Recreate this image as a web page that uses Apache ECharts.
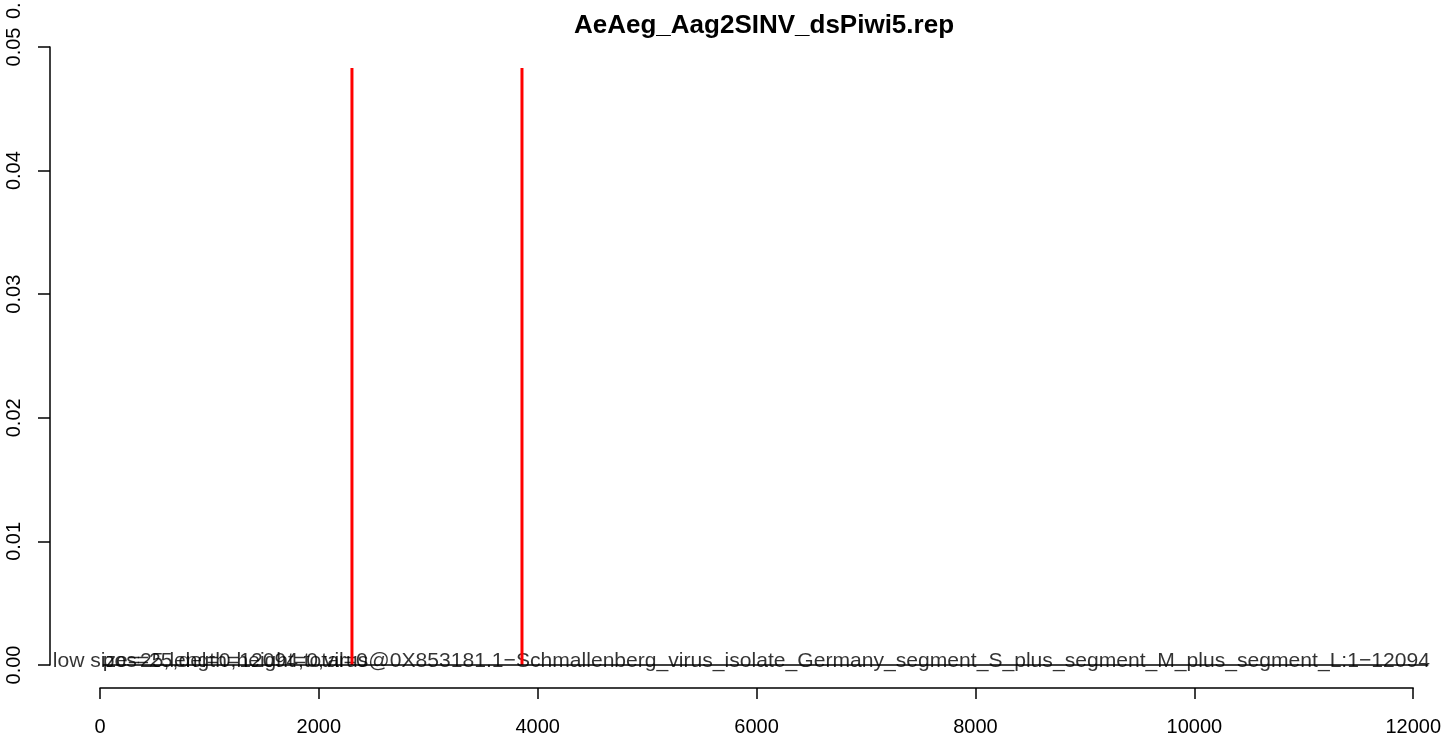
<!DOCTYPE html>
<html>
<head>
<meta charset="utf-8">
<script src="https://cdn.jsdelivr.net/npm/echarts@6/dist/echarts.min.js"></script>
<style>
html,body{margin:0;padding:0;background:#fff;}
#chart{width:1444px;height:740px;}
</style>
</head>
<body>
<div id="chart"></div>
<script>
var chartTitle = 'AeAeg_Aag2SINV_dsPiwi5.rep';
var spikePositions = [2294, 3842];
var spikeHeights = [0.0483, 0.0483];
var baselineStart = 25;
var baselineEnd = 12094;
var xTicks = [0, 2000, 4000, 6000, 8000, 10000, 12000];
var yTicks = [0, 0.01, 0.02, 0.03, 0.04, 0.05];
var noteA = 'low size=25,length=12094,total=0';
var noteAx = -430;
var noteB = 'pos=25,del=0,height=0,virus@0X853181.1\u2212Schmallenberg_virus_isolate_Germany_segment_S_plus_segment_M_plus_segment_L:1\u221212094';
var noteBx = 25;

var FONT = '"Liberation Sans", Arial, Helvetica, sans-serif';
var chart = echarts.init(document.getElementById('chart'));

// plot geometry: x = 0 at 100px, x = 12000 at 1418px; y axis line at 50px
var pxPerUnit = 1318 / (xTicks[xTicks.length - 1] - xTicks[0]);
var dataXMin = -50 / pxPerUnit;
var dataXMax = 1344 / pxPerUnit;

var series = [];
spikePositions.forEach(function (p, i) {
  series.push({
    type: 'line', symbol: 'none', silent: true, xAxisIndex: 0, yAxisIndex: 0,
    lineStyle: {color: '#ff0000', width: 3},
    data: [[p, 0], [p, spikeHeights[i]]]
  });
});
series.push({
  type: 'line', symbol: 'none', silent: true, clip: false, xAxisIndex: 0, yAxisIndex: 0,
  lineStyle: {color: '#000000', width: 1.5},
  data: [[baselineStart, 0], [baselineEnd, 0]]
});
[[noteAx, noteA], [noteBx, noteB]].forEach(function (n) {
  series.push({
    type: 'scatter', symbolSize: 0, clip: false, silent: true, xAxisIndex: 0, yAxisIndex: 0,
    data: [[n[0], 0]],
    label: {
      show: true, position: 'right', distance: 0, offset: [0, -4],
      formatter: n[1], color: '#000', fontSize: 21.1, fontFamily: FONT
    }
  });
});

chart.setOption({
  animation: false,
  backgroundColor: '#ffffff',
  grid: [
    {left: 50, width: 1394, top: 47, height: 618, containLabel: false},
    {left: 100, width: 1318, top: 47, height: 641, containLabel: false}
  ],
  xAxis: [
    {type: 'value', gridIndex: 0, min: dataXMin, max: dataXMax, show: false},
    {
      type: 'value', gridIndex: 1, min: xTicks[0], max: xTicks[xTicks.length - 1], interval: 2000,
      axisLine: {show: true, onZero: false, lineStyle: {color: '#000', width: 1.5}},
      axisTick: {show: true, length: 11, lineStyle: {color: '#000', width: 1.5}},
      axisLabel: {color: '#000', fontSize: 20, fontFamily: FONT, margin: 29,
        showMinLabel: true, showMaxLabel: true,
        formatter: function (v) { return String(v); }},
      splitLine: {show: false}
    }
  ],
  yAxis: [
    {
      type: 'value', gridIndex: 0, min: yTicks[0], max: yTicks[yTicks.length - 1], interval: 0.01,
      axisLine: {show: true, onZero: false, lineStyle: {color: '#000', width: 1.5}},
      axisTick: {show: true, length: 12, lineStyle: {color: '#000', width: 1.5}},
      axisLabel: {color: '#000', fontSize: 20, fontFamily: FONT, margin: 26, rotate: 90,
        formatter: function (v) { return v.toFixed(2); },
        showMinLabel: true, showMaxLabel: true},
      splitLine: {show: false}
    },
    {type: 'value', gridIndex: 1, min: 0, max: 1, show: false}
  ],
  graphic: [
    {type: 'text', x: 764, y: 26, silent: true,
     style: {text: chartTitle, fill: '#000', font: 'bold 26px ' + FONT,
       textAlign: 'center', textVerticalAlign: 'middle'}},
    {type: 'text', x: 14, y: 19, rotation: Math.PI / 2, silent: true,
     style: {text: '0.', fill: '#000', font: '20px ' + FONT,
       textAlign: 'left', textVerticalAlign: 'middle'}}
  ],
  series: series
});
</script>
</body>
</html>
